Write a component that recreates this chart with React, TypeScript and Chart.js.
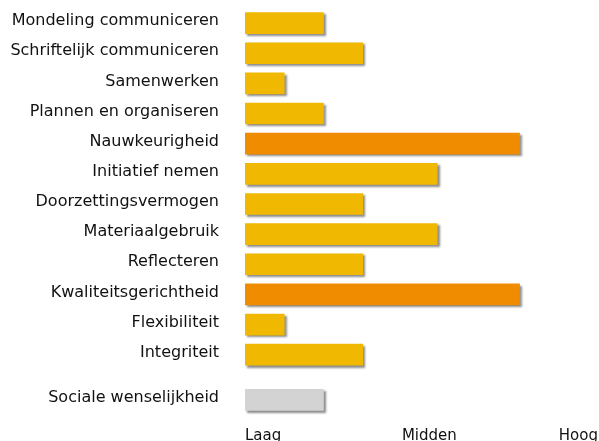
import React, { useEffect, useRef } from "react";
import { Chart, registerables } from "chart.js";

Chart.register(...registerables);

const categories = [
  "Mondeling communiceren",
  "Schriftelijk communiceren",
  "Samenwerken",
  "Plannen en organiseren",
  "Nauwkeurigheid",
  "Initiatief nemen",
  "Doorzettingsvermogen",
  "Materiaalgebruik",
  "Reflecteren",
  "Kwaliteitsgerichtheid",
  "Flexibiliteit",
  "Integriteit",
  "Sociale wenselijkheid",
];
// row index of each category (the last one sits a little apart)
const rowIndex = [0, 1, 2, 3, 4, 5, 6, 7, 8, 9, 10, 11, 12.5];
const scores = [2, 3, 1, 2, 7, 4.9, 3, 4.9, 3, 7, 1, 3, 2];
const barColors = [
  "#F0B800", "#F0B800", "#F0B800", "#F0B800", "#F08C00", "#F0B800", "#F0B800",
  "#F0B800", "#F0B800", "#F08C00", "#F0B800", "#F0B800", "#D3D3D3",
];
const xTickValues = [0, 4, 8];
const xTickLabels = ["Laag", "Midden", "Hoog"];
const scaleMin = 0;
const scaleMax = 9;

const shadowPlugin = {
  id: "barShadow",
  beforeDatasetsDraw(chart: any) {
    const ctx = chart.ctx;
    ctx.save();
    ctx.shadowColor = "rgba(0,0,0,0.45)";
    ctx.shadowOffsetX = 2;
    ctx.shadowOffsetY = 2;
    ctx.shadowBlur = 2;
  },
  afterDatasetsDraw(chart: any) {
    chart.ctx.restore();
  },
};

export default function App() {
  const ref = useRef<HTMLCanvasElement>(null);
  useEffect(() => {
    if (!ref.current) return;
    const family = "'DejaVu Sans', Verdana, sans-serif";
    const chart = new Chart(ref.current, {
      type: "bar",
      data: {
        datasets: [
          {
            data: scores.map((v, i) => ({ x: v, y: rowIndex[i] })),
            backgroundColor: barColors,
            barThickness: 21,
            borderWidth: 0,
          },
        ],
      },
      plugins: [shadowPlugin],
      options: {
        indexAxis: "y",
        animation: false,
        responsive: false,
        layout: { padding: { top: 8, left: 0, right: 1, bottom: 0 } },
        plugins: { legend: { display: false }, tooltip: { enabled: false }, title: { display: false } },
        scales: {
          x: {
            type: "linear",
            min: scaleMin,
            max: scaleMax,
            offset: false,
            grid: { display: false, drawTicks: false },
            border: { display: false },
            afterBuildTicks: (scale: any) => {
              scale.ticks = xTickValues.map((v) => ({ value: v }));
            },
            afterFit: (scale: any) => {
              scale.paddingLeft = 0;
              scale.paddingRight = 0;
              scale.height = 29;
            },
            ticks: {
              align: "start",
              padding: 12,
              color: "#111",
              font: { family, size: 15 },
              maxRotation: 0,
              callback: (v: any) => xTickLabels[xTickValues.indexOf(Number(v))] ?? "",
            },
          },
          y: {
            type: "linear",
            reverse: true,
            min: -0.5,
            max: 13,
            offset: false,
            grid: { display: false, drawTicks: false, offset: false },
            border: { display: false },
            afterBuildTicks: (scale: any) => {
              scale.ticks = rowIndex.map((v) => ({ value: v }));
            },
            afterFit: (scale: any) => {
              scale.width = 245;
              scale.paddingTop = 0;
              scale.paddingBottom = 0;
            },
            ticks: {
              padding: 26,
              labelOffset: -2,
              color: "#111",
              font: { family, size: 16 },
              callback: (v: any) => categories[rowIndex.indexOf(Number(v))] ?? "",
            },
          },
        },
      },
    });
    return () => chart.destroy();
  }, []);
  return (
    <div style={{ position: "fixed", left: 0, top: 0, width: 599, height: 441, overflow: "hidden", background: "#fff" }}>
      <canvas ref={ref} width={599} height={444} style={{ display: "block", width: 599, height: 444 }} />
    </div>
  );
}
